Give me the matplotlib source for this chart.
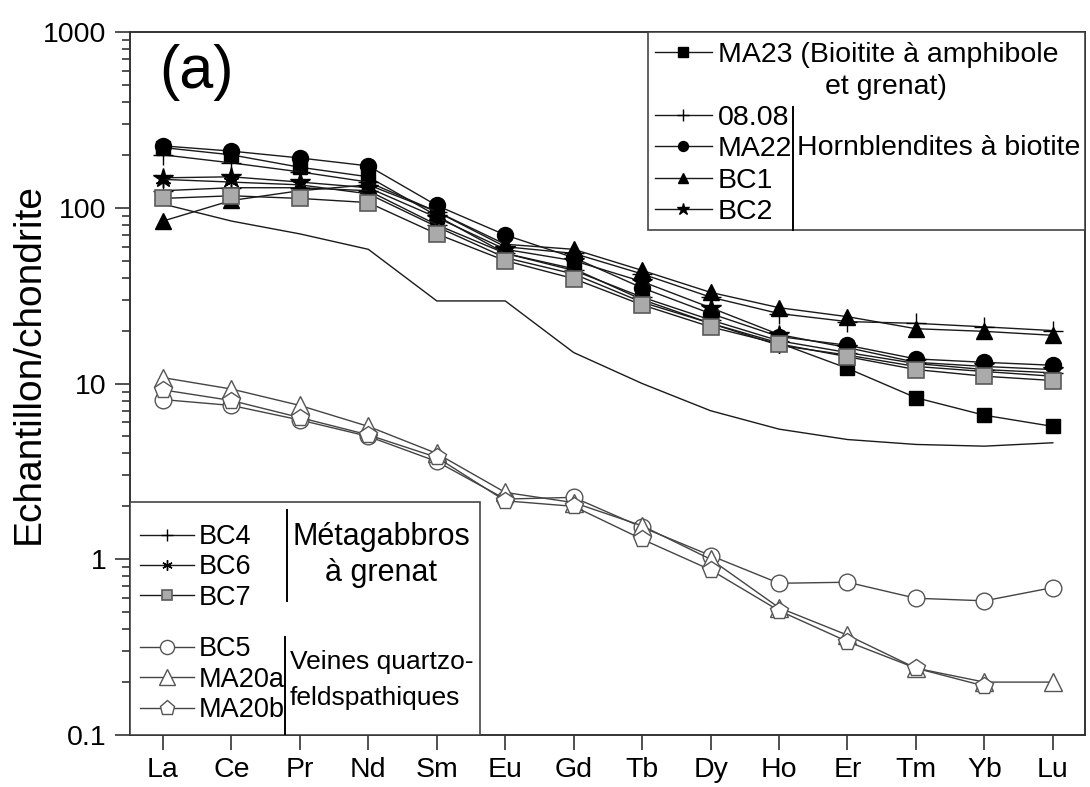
import matplotlib
matplotlib.use("Agg")
import matplotlib.pyplot as plt
import numpy as np
from matplotlib.lines import Line2D
from matplotlib.patches import Rectangle

plt.rcParams['font.family'] = ['Liberation Sans', 'DejaVu Sans']

elements = ["La", "Ce", "Pr", "Nd", "Sm", "Eu", "Gd", "Tb", "Dy", "Ho", "Er", "Tm", "Yb", "Lu"]

# reference pattern (no markers)
ref_line = [105, 84, 71, 58, 29.5, 29.5, 15, 10, 7.0, 5.5, 4.8, 4.5, 4.4, 4.6]

MA23 = [220, 200, 170, 150, 90, 55, 45, 30, 22, 17, 12.2, 8.3, 6.6, 5.7]
h0808 = [200, 180, 160, 140, 95, 60, 55, 42, 31, 25, 22.5, 22, 21, 20]
MA22 = [225, 210, 192, 173, 103, 70, 52, 35, 25, 18.5, 16.5, 13.8, 13.2, 12.7]
BC1 = [84, 110, 125, 135, 95, 62, 58, 44, 33, 27, 24, 20.5, 19.8, 18.8]
BC2 = [148, 150, 140, 130, 88, 58, 50, 38, 27, 19, 16, 13.2, 12.5, 12]
BC4 = [125, 130, 130, 125, 80, 55, 44, 31, 23, 17.5, 15, 13, 12, 11.5]
BC6 = [145, 140, 135, 120, 78, 52, 42, 29, 22, 16.5, 14.5, 12.5, 11.7, 11]
BC7 = [113, 117, 113, 107, 71, 50, 39.5, 28, 21, 16.8, 14.2, 12.0, 11.0, 10.4]
BC5 = [8.1, 7.5, 6.2, 5.0, 3.6, 2.2, 2.25, 1.52, 1.05, 0.73, 0.74, 0.60, 0.58, 0.69]
MA20a = [10.8, 9.3, 7.5, 5.7, 4.0, 2.4, 2.1, 1.55, 1.0, 0.53, 0.37, 0.24, 0.20, 0.20]
MA20b = [9.2, 8.0, 6.4, 5.1, 3.8, 2.15, 2.0, 1.3, 0.87, 0.51, 0.34, 0.24, 0.19, np.nan]

fig = plt.figure(figsize=(10.9, 7.87), dpi=100)
ax = fig.add_axes([130/1090, 1-735/787, 955/1090, 703/787])
x = np.arange(len(elements))

lw = 1.0
dark = "#1a1a1a"
ax.plot(x, ref_line, color=dark, lw=lw, zorder=2)

h_ma23, = ax.plot(x, MA23, color=dark, lw=lw, marker='s', ms=10.5, mfc='black', mec='black')
h_0808, = ax.plot(x, h0808, color=dark, lw=lw, marker='+', ms=14, mew=1.0, mec='black')
h_ma22, = ax.plot(x, MA22, color=dark, lw=lw, marker='o', ms=11.5, mfc='black', mec='black')
h_bc1, = ax.plot(x, BC1, color=dark, lw=lw, marker='^', ms=12, mfc='black', mec='black')
h_bc2, = ax.plot(x, BC2, color=dark, lw=lw, marker='*', ms=15, mfc='black', mec='black')
h_bc4, = ax.plot(x, BC4, color=dark, lw=lw, marker='+', ms=14, mew=1.0, mec='black')
h_bc6, = ax.plot(x, BC6, color=dark, lw=lw, marker=(6, 2, 0), ms=12, mew=1.0, mec='black')
h_bc7, = ax.plot(x, BC7, color=dark, lw=lw, marker='s', ms=11.5, mfc='#aaaaaa', mec='#5a5a5a', mew=1.2)

vc = "#444444"
h_bc5, = ax.plot(x, BC5, color=vc, lw=lw, marker='o', ms=12, mfc='white', mec='#555555', mew=1.0)
h_ma20a, = ax.plot(x, MA20a, color=vc, lw=lw, marker='^', ms=13, mfc='white', mec='#555555', mew=1.0)
h_ma20b, = ax.plot(x, MA20b, color=vc, lw=lw, marker='p', ms=13, mfc='white', mec='#555555', mew=1.0)

ax.set_yscale('log')
ax.set_ylim(0.1, 1000)
ax.set_xlim(-0.482, 13.47)
ax.set_xticks(x)
ax.set_xticklabels(elements)
ax.set_yticks([0.1, 1, 10, 100, 1000])
ax.set_yticklabels(["0.1", "1", "10", "100", "1000"])
ax.tick_params(axis='both', which='major', labelsize=20.5, length=11, width=1.2, color='#333333', pad=6, direction='out')
ax.tick_params(axis='y', which='minor', length=6, width=1.2, color='#333333', direction='out')
ax.tick_params(axis='x', which='major', pad=5)
for s in ax.spines.values():
    s.set_linewidth(1.4)
    s.set_color('#333333')

fig.text(29/1090, 1-364/787, "Echantillon/chondrite", rotation=90, fontsize=28, ha='center', va='center')
ax.text(0.031, 0.943, "(a)", transform=ax.transAxes, fontsize=44, ha='left', va='center')

# Top-right legend box
ax.add_patch(Rectangle((0.5424, 0.718), 1.0-0.5424, 0.282, transform=ax.transAxes,
                       fill=True, facecolor='white', edgecolor='#444444', lw=1.2, zorder=5))
blank = Line2D([], [], linestyle='none', marker=None)
leg1 = ax.legend([h_ma23, blank, h_0808, h_ma22, h_bc1, h_bc2],
                 ["MA23 (Bioitite à amphibole", " ", "08.08", "MA22", "BC1", "BC2"],
                 loc='upper left', bbox_to_anchor=(0.5497, 0.9855), frameon=False,
                 fontsize=20.5, borderpad=0, borderaxespad=0, handlelength=2.0,
                 handletextpad=0.2, labelspacing=0.19, markerscale=0.62)
leg1.set_zorder(6)
ax.add_artist(leg1)
ax.text(0.7916, 0.9218, "et grenat)", transform=ax.transAxes, fontsize=20.5, ha='center', va='center', zorder=7)
ax.plot([0.6942, 0.6942], [0.893, 0.718], transform=ax.transAxes, color='black', lw=1.4, zorder=7)
ax.text(0.698, 0.835, "Hornblendites à biotite", transform=ax.transAxes, fontsize=20.5, ha='left', va='center', zorder=7)

# Bottom-left legend box
ax.add_patch(Rectangle((0.0, 0.0), 0.3665, 0.331, transform=ax.transAxes,
                       fill=True, facecolor='white', edgecolor='#444444', lw=1.2, zorder=5))
leg2 = ax.legend([h_bc4, h_bc6, h_bc7], ["BC4", "BC6", "BC7"],
                 loc='upper left', bbox_to_anchor=(0.0105, 0.300), frameon=False,
                 fontsize=19.5, borderpad=0, borderaxespad=0, handlelength=2.0,
                 handletextpad=0.15, labelspacing=0.16, markerscale=0.62)
leg2.set_zorder(6)
ax.add_artist(leg2)
leg3 = ax.legend([h_bc5, h_ma20a, h_ma20b], ["BC5", "MA20a", "MA20b"],
                 loc='upper left', bbox_to_anchor=(0.0105, 0.1408), frameon=False,
                 fontsize=19.5, borderpad=0, borderaxespad=0, handlelength=2.0,
                 handletextpad=0.15, labelspacing=0.17, markerscale=0.85)
leg3.set_zorder(6)
ax.plot([0.1644, 0.1644], [0.32, 0.19], transform=ax.transAxes, color='black', lw=1.4, zorder=7)
ax.text(0.2628, 0.2560, "Métagabbros\nà grenat", transform=ax.transAxes, fontsize=22, ha='center',
        va='center', multialignment='center', linespacing=1.3, zorder=7)
ax.plot([0.1623, 0.1623], [0.139, 0.0], transform=ax.transAxes, color='black', lw=1.4, zorder=7)
ax.text(0.1675, 0.078, "Veines quartzo-\nfeldspathiques", transform=ax.transAxes, fontsize=19, ha='left',
        va='center', multialignment='left', linespacing=1.65, zorder=7)

fig.savefig("out.png", dpi=100)
